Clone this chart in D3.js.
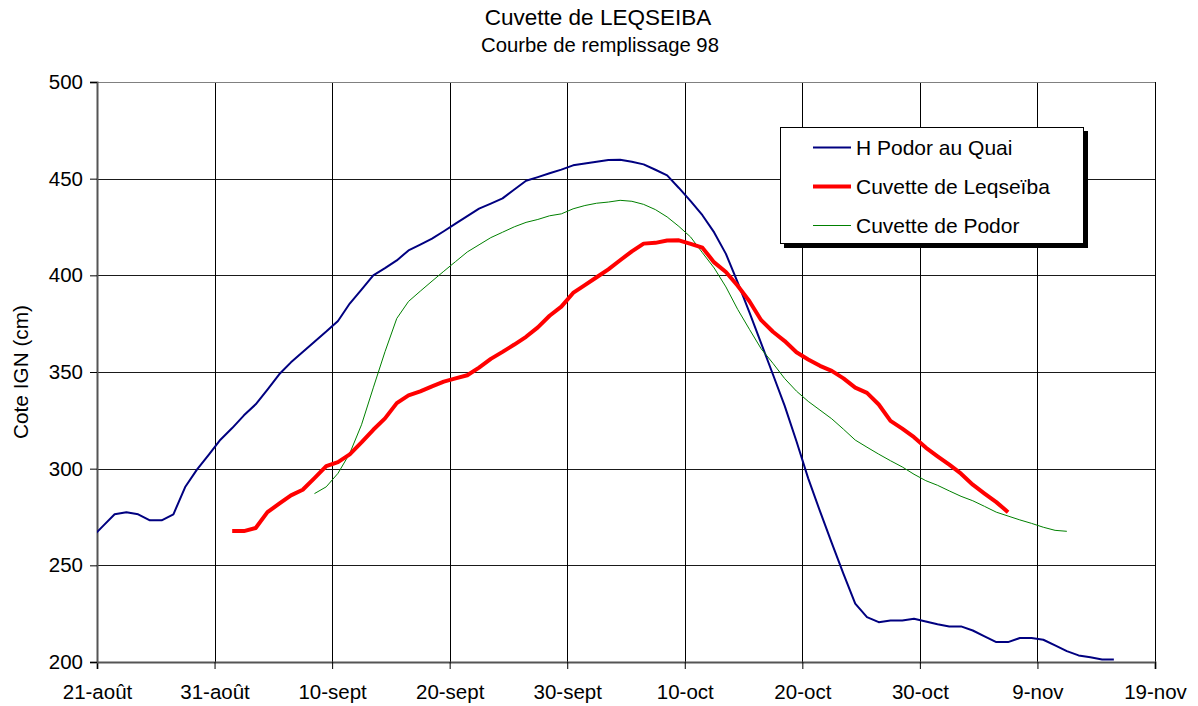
<!DOCTYPE html>
<html>
<head>
<meta charset="utf-8">
<script src="https://cdn.jsdelivr.net/npm/d3@7"></script>
<style>
  body { margin: 0; background: #fff; }
  svg { font-family: "Liberation Sans", Arial, sans-serif; }
</style>
</head>
<body>
<svg id="chart"></svg>
<script>
// base settings
const width = 1198;
const height = 706;
const margin = { top: 82, right: 43, bottom: 44, left: 97 };

// x axis: days counted from 21 August 1998, one tick every 10 days
const tickDays = [0, 10, 20, 30, 40, 50, 60, 70, 80, 90];
const tickLabels = ['21-août', '31-août', '10-sept', '20-sept', '30-sept',
  '10-oct', '20-oct', '30-oct', '9-nov', '19-nov'];
const yTicks = [200, 250, 300, 350, 400, 450, 500];

// daily readings, first day of each series (day index from 21 Aug), drawn at mid-day
const seriesNames = ['H Podor au Quai', 'Cuvette de Leqseïba', 'Cuvette de Podor'];
const seriesStart = [-1, 11, 18];

const podorQuai = [
  264, 270.3, 276.4, 277.4, 276.4, 273.3, 273.3, 276.4, 290.5, 299.5,
  307.1, 315, 321, 327.6, 333.3, 340.9, 348.8, 355, 360.3, 365.7,
  370.9, 376.4, 385.4, 392.6, 400, 403.7, 407.7, 412.9, 415.9, 419,
  422.8, 426.7, 430.6, 434.5, 437.1, 439.8, 444.4, 448.9, 450.8, 452.8,
  454.7, 456.9, 457.9, 458.8, 459.7, 459.8, 458.7, 457.4, 454.6, 451.7,
  445.2, 438.4, 431.1, 422.2, 411.1, 396.4, 380.9, 364.8, 348.7, 332.5,
  314.2, 295, 278, 261.6, 245.6, 230.2, 223.2, 220.6, 221.5, 221.5,
  222.4, 220.9, 219.5, 218.4, 218.4, 216.3, 213.3, 210.3, 210.3, 212.4,
  212.4, 211.5, 208.6, 205.6, 203.4, 202.4, 201.3, 201.3
];

const leqseiba = [
  267.7, 267.7, 269.3, 277.5, 281.9, 286.2, 289.1, 295.1, 301.3, 303.4,
  307.4, 313.6, 320.1, 326.0, 333.9, 337.9, 340.0, 342.6, 345.0, 346.7,
  348.3, 352.3, 356.8, 360.4, 364.2, 368.2, 373.1, 379.1, 383.8, 390.9,
  394.9, 399.0, 403.1, 407.8, 412.4, 416.4, 416.8, 418.0, 418.1, 416.3,
  414.3, 406.7, 401.7, 394.6, 386.6, 376.8, 370.8, 366.0, 360.2, 356.5,
  353.2, 350.6, 346.7, 341.9, 339.2, 333.2, 324.7, 320.7, 316.3, 310.9,
  306.4, 302.1, 297.4, 291.7, 287.1, 282.7, 277.5
];

const cuvettePodor = [
  287.1, 290.6, 297.6, 307.9, 322.7, 341.8, 360.5, 377.7, 386.5, 391.8,
  397.0, 402.1, 407.1, 412.1, 415.8, 419.5, 422.3, 425.1, 427.4, 428.9,
  430.8, 431.8, 434.4, 436.1, 437.3, 437.9, 438.8, 438.3, 436.7, 434.0,
  430.2, 425.3, 419.8, 411.7, 403.8, 394.0, 382.4, 372.1, 362.0, 354.5,
  346.6, 340.1, 334.8, 330.3, 325.8, 320.4, 314.8, 311.1, 307.5, 304.1,
  300.9, 297.1, 293.8, 291.4, 288.5, 285.7, 283.4, 280.5, 277.5, 275.5,
  273.5, 271.7, 269.7, 268.1, 267.6
];

const seriesValues = [podorQuai, leqseiba, cuvettePodor];
const seriesColors = ['#000080', '#ff0000', '#008000'];
const seriesWidths = [2, 4, 1];

const svg = d3.select('#chart')
  .attr('width', width).attr('height', height);

const x = d3.scaleLinear()
  .domain([0, 90])
  .range([margin.left, width - margin.right]);
const y = d3.scaleLinear()
  .domain([200, 500])
  .range([height - margin.bottom, margin.top]);

// titles
svg.append('text')
  .attr('x', 598).attr('y', 25)
  .attr('text-anchor', 'middle')
  .style('font-size', '22.5px')
  .text('Cuvette de LEQSEIBA');
svg.append('text')
  .attr('x', 600).attr('y', 52)
  .attr('text-anchor', 'middle')
  .style('font-size', '20.3px')
  .text('Courbe de remplissage 98');

// grid
const grid = svg.append('g');
grid.selectAll('.hgrid')
  .data(yTicks.filter(v => v > 200 && v < 500))
  .enter().append('line')
  .attr('x1', x(0)).attr('x2', x(90))
  .attr('y1', d => Math.round(y(d)) + 0.5).attr('y2', d => Math.round(y(d)) + 0.5)
  .style('stroke', '#1a1a1a');
grid.selectAll('.vgrid')
  .data(tickDays.filter(d => d > 0))
  .enter().append('line')
  .attr('x1', d => Math.round(x(d)) + 0.5).attr('x2', d => Math.round(x(d)) + 0.5)
  .attr('y1', y(500)).attr('y2', y(200))
  .style('stroke', '#000');
// plot area top border
grid.append('line')
  .attr('x1', x(0)).attr('x2', x(90))
  .attr('y1', Math.round(y(500)) + 0.5).attr('y2', Math.round(y(500)) + 0.5)
  .style('stroke', '#808080');

// axes
const xAxis = d3.axisBottom(x)
  .tickValues(tickDays)
  .tickFormat((d, i) => tickLabels[i])
  .tickSizeOuter(0)
  .tickSize(7)
  .tickPadding(15);
const yAxis = d3.axisLeft(y)
  .tickValues(yTicks)
  .tickSizeOuter(0)
  .tickSize(7)
  .tickPadding(7);

const gx = svg.append('g')
  .attr('transform', `translate(0,${Math.round(y(200))})`)
  .call(xAxis);
const gy = svg.append('g')
  .attr('transform', `translate(${Math.round(x(0))},0)`)
  .call(yAxis);
[gx, gy].forEach(g => {
  g.select('.domain').style('stroke', '#555').style('stroke-width', '2px');
  g.selectAll('.tick line').style('stroke', '#000');
  g.selectAll('.tick text')
    .style('font-size', '20.5px')
    .style('font-family', '"Liberation Sans", Arial, sans-serif')
    .style('fill', '#000');
});

// y axis title
svg.append('text')
  .attr('transform', `translate(28,${(y(200) + y(500)) / 2}) rotate(-90)`)
  .attr('text-anchor', 'middle')
  .style('font-size', '20.8px')
  .text('Cote IGN (cm)');

// lines, clipped to the plot area
svg.append('clipPath').attr('id', 'plot-clip')
  .append('rect')
  .attr('x', x(0)).attr('y', y(500))
  .attr('width', x(90) - x(0)).attr('height', y(200) - y(500));

const line = d3.line()
  .x(d => x(d.day))
  .y(d => y(d.value));

const lines = svg.append('g').attr('clip-path', 'url(#plot-clip)');
// draw order: blue, green, red on top
[0, 2, 1].forEach(s => {
  const points = seriesValues[s].map((v, i) => ({ day: seriesStart[s] + i + 0.5, value: v }));
  lines.append('path')
    .datum(points)
    .attr('d', line)
    .style('fill', 'none')
    .style('stroke', seriesColors[s])
    .style('stroke-width', seriesWidths[s] + 'px')
    .style('stroke-linejoin', 'round');
});

// legend with drop shadow
const legend = svg.append('g').attr('transform', 'translate(780,127)');
legend.append('rect')
  .attr('x', 4).attr('y', 4)
  .attr('width', 304).attr('height', 117)
  .style('fill', '#000');
legend.append('rect')
  .attr('x', 0.5).attr('y', 0.5)
  .attr('width', 303).attr('height', 116)
  .style('fill', '#fff')
  .style('stroke', '#000');

seriesNames.forEach((name, i) => {
  const rowY = 20.5 + i * 39;
  legend.append('line')
    .attr('x1', 33).attr('x2', 71)
    .attr('y1', rowY).attr('y2', rowY)
    .style('stroke', seriesColors[i])
    .style('stroke-width', seriesWidths[i] + 'px');
  legend.append('text')
    .attr('x', 76).attr('y', rowY + 7)
    .style('font-size', '21px')
    .text(name);
});
</script>
</body>
</html>
